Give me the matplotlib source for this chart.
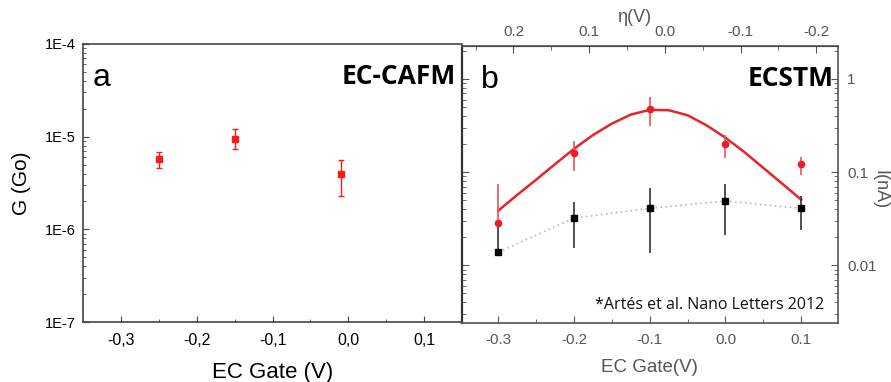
import numpy as np
import matplotlib
matplotlib.use("Agg")
import matplotlib.pyplot as plt
from matplotlib.ticker import MultipleLocator, LogLocator, NullFormatter, FixedLocator

plt.rcParams["font.family"] = ["Liberation Sans", "DejaVu Sans"]

# Panel a: EC-CAFM conductance
gate_a = [-0.25, -0.15, -0.01]
g_a = [5.75e-6, 9.5e-6, 4.0e-6]
g_a_hi = [6.9e-6, 1.2e-5, 5.6e-6]
g_a_lo = [4.6e-6, 7.3e-6, 2.3e-6]

# Panel b: ECSTM current
gate_b = [-0.3, -0.2, -0.1, 0.0, 0.1]
i_red = [0.0284, 0.161, 0.478, 0.199, 0.121]
i_red_hi = [0.075, 0.214, 0.643, 0.248, 0.147]
i_red_lo = [0.0284, 0.102, 0.313, 0.143, 0.0935]
i_blk = [0.0138, 0.0321, 0.0408, 0.049, 0.0408]
i_blk_hi = [0.028, 0.0473, 0.067, 0.0748, 0.056]
i_blk_lo = [0.0138, 0.0155, 0.0135, 0.0212, 0.024]

# fitted red curve
fit_gate = [-0.3, -0.275, -0.25, -0.225, -0.2, -0.175, -0.15, -0.125, -0.1, -0.075,
            -0.05, -0.025, 0.0, 0.025, 0.05, 0.075, 0.1]
fit_i = [0.0386, 0.057, 0.083, 0.122, 0.178, 0.25, 0.332, 0.415, 0.466, 0.462,
         0.408, 0.318, 0.234, 0.164, 0.111, 0.075, 0.0506]

eta_ticks = [0.2, 0.1, 0.0, -0.1, -0.2]
ETA_OFFSET = -0.08

RED = "#ff1a1a"
SPINE_A = "#444444"
SPINE_B = "#555555"
GREY_TXT = "#555555"

fig = plt.figure(figsize=(8.91, 3.82), dpi=100)
ax_a = fig.add_axes([0.0932, 0.157, 0.4253, 0.728])
ax_b = fig.add_axes([0.5185, 0.1545, 0.4215, 0.7255])

# ---- panel a ----
err_a = [np.array(g_a) - np.array(g_a_lo), np.array(g_a_hi) - np.array(g_a)]
ax_a.errorbar(gate_a, g_a, yerr=err_a, fmt="s", color=RED, ecolor=RED,
              markersize=4.5, capsize=2.5, elinewidth=1.0, capthick=1.0)
ax_a.set_yscale("log")
ax_a.set_xlim(-0.35, 0.15)
ax_a.set_ylim(1e-7, 1e-4)
ax_a.set_yticks([1e-7, 1e-6, 1e-5, 1e-4])
ax_a.set_yticklabels(["1E-7", "1E-6", "1E-5", "1E-4"], fontsize=10.5)
ax_a.yaxis.set_minor_locator(LogLocator(base=10, subs=np.arange(2, 10)))
ax_a.yaxis.set_minor_formatter(NullFormatter())
ax_a.set_xticks([-0.3, -0.2, -0.1, 0.0, 0.1])
ax_a.set_xticklabels(["-0,3", "-0,2", "-0,1", "0,0", "0,1"], fontsize=11.5)
ax_a.xaxis.set_minor_locator(MultipleLocator(0.05))
ax_a.tick_params(which="both", direction="in", colors=SPINE_A, labelcolor="black")
ax_a.tick_params(which="major", length=4, pad=5)
ax_a.tick_params(which="minor", length=2.5)
ax_a.tick_params(axis="x", pad=8)
for sp in ax_a.spines.values():
    sp.set_color(SPINE_A)
    sp.set_linewidth(1.2)
ax_a.spines["right"].set_visible(False)
ax_a.set_xlabel("EC Gate (V)", fontsize=16, labelpad=10)
ax_a.set_ylabel("G (Go)", fontsize=15, labelpad=10)
ax_a.text(0.025, 0.93, "a", transform=ax_a.transAxes, fontsize=23,
          ha="left", va="top")
ax_a.text(0.985, 0.93, "EC-CAFM", transform=ax_a.transAxes, fontsize=19,
          fontweight="bold", family="Open Sans", ha="right", va="top")

# ---- panel b ----
ax_b.plot(gate_b, i_blk, linestyle=(0, (1, 2)), color="#b8b8b8", linewidth=1.2, zorder=1)
ax_b.plot(fit_gate, fit_i, color="#e52629", linewidth=1.8, zorder=2)
err_blk = [np.array(i_blk) - np.array(i_blk_lo), np.array(i_blk_hi) - np.array(i_blk)]
ax_b.errorbar(gate_b, i_blk, yerr=err_blk, fmt="s", color="black", ecolor="#333333",
              markersize=4.5, elinewidth=1.2, capsize=0, zorder=3)
err_red = [np.array(i_red) - np.array(i_red_lo), np.array(i_red_hi) - np.array(i_red)]
ax_b.errorbar(gate_b, i_red, yerr=err_red, fmt="o", color="#ee1c24", ecolor="#f05050",
              markersize=4.5, elinewidth=1.2, capsize=0, zorder=4)
ax_b.set_yscale("log")
ax_b.set_xlim(-0.348, 0.148)
ax_b.set_ylim(10 ** -2.62, 10 ** 0.356)
ax_b.yaxis.set_major_locator(FixedLocator([0.01, 0.1, 1]))
ax_b.set_yticklabels(["0.01", "0.1", "1"])
ax_b.yaxis.set_minor_locator(LogLocator(base=10, subs=np.arange(2, 10)))
ax_b.yaxis.set_minor_formatter(NullFormatter())
ax_b.set_xticks([-0.3, -0.2, -0.1, 0.0, 0.1])
ax_b.set_xticklabels(["-0.3", "-0.2", "-0.1", "0.0", "0.1"])
ax_b.xaxis.set_minor_locator(MultipleLocator(0.05))
ax_b.tick_params(which="both", direction="in", colors=SPINE_B, labelcolor=GREY_TXT,
                 labelsize=11, left=True, right=True, labelleft=False, labelright=True)
ax_b.tick_params(which="major", length=5, pad=7)
ax_b.tick_params(which="minor", length=3)
for sp in ax_b.spines.values():
    sp.set_color(SPINE_B)
    sp.set_linewidth(1.2)
ax_b.spines["left"].set_color("#333333")
ax_b.spines["left"].set_linewidth(1.6)
ax_b.set_xlabel("EC Gate(V)", fontsize=13.5, color=GREY_TXT, labelpad=9)
fig.text(880 / 891, 1 - 190 / 382, "I(nA)", fontsize=13, color=GREY_TXT,
         rotation=270, ha="center", va="center")

top = ax_b.secondary_xaxis("top", functions=(lambda g: ETA_OFFSET - g,
                                             lambda e: ETA_OFFSET - e))
top.set_xticks(eta_ticks)
top.set_xticklabels(["0.2", "0.1", "0.0", "-0.1", "-0.2"])
top.xaxis.set_minor_locator(MultipleLocator(0.05))
top.tick_params(which="both", direction="in", colors=SPINE_B, labelcolor=GREY_TXT,
                labelsize=11)
top.tick_params(which="major", length=5, pad=5)
top.tick_params(which="minor", length=3)
fig.text(634 / 891, 1 - 17 / 382, "\u03b7(V)", fontsize=13, color=GREY_TXT,
         ha="center", va="center")

ax_b.text(0.05, 0.93, "b", transform=ax_b.transAxes, fontsize=23,
          ha="left", va="top")
ax_b.text(0.99, 0.93, "ECSTM", transform=ax_b.transAxes, fontsize=19,
          fontweight="bold", family="Open Sans", ha="right", va="top")
ax_b.text(0.965, 0.035, "*Art\u00e9s et al. Nano Letters 2012", transform=ax_b.transAxes,
          fontsize=11.5, family="Open Sans", ha="right", va="bottom", color="#111111")

fig.savefig("out.png", dpi=100)
